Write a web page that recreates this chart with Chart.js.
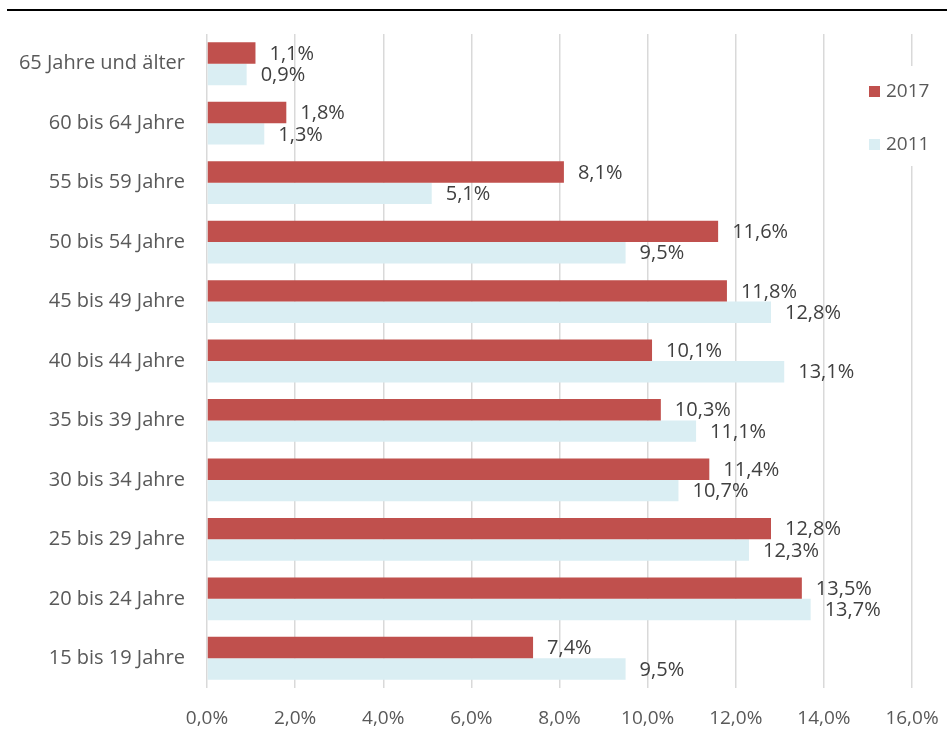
<!DOCTYPE html>
<html>
<head>
<meta charset="utf-8">
<script src="https://cdn.jsdelivr.net/npm/chart.js@4.4.0/dist/chart.umd.min.js"></script>
<style>
  html, body { margin: 0; padding: 0; background: #fff; }
  canvas { display: block; }
</style>
</head>
<body>
<canvas id="chart" width="947" height="740"></canvas>
<script>
// Altersgruppen (von oben nach unten)
const categories = [
    '65 Jahre und älter',
    '60 bis 64 Jahre',
    '55 bis 59 Jahre',
    '50 bis 54 Jahre',
    '45 bis 49 Jahre',
    '40 bis 44 Jahre',
    '35 bis 39 Jahre',
    '30 bis 34 Jahre',
    '25 bis 29 Jahre',
    '20 bis 24 Jahre',
    '15 bis 19 Jahre'
];
const values2017 = [1.1, 1.8, 8.1, 11.6, 11.8, 10.1, 10.3, 11.4, 12.8, 13.5, 7.4];
const values2011 = [0.9, 1.3, 5.1, 9.5, 12.8, 13.1, 11.1, 10.7, 12.3, 13.7, 9.5];
const seriesLabels = ['2017', '2011'];
const xTicks = [0, 2, 4, 6, 8, 10, 12, 14, 16];

const FONT = '"Open Sans", Lato, sans-serif';
const fmt = v => v.toFixed(1).replace('.', ',') + '%';

// Werte rechts neben den Balken
const valueLabels = {
    id: 'valueLabels',
    afterDatasetsDraw(chart) {
        const ctx = chart.ctx;
        ctx.save();
        ctx.font = '20px ' + FONT;
        ctx.fillStyle = '#404040';
        ctx.textAlign = 'left';
        ctx.textBaseline = 'middle';
        chart.data.datasets.forEach((ds, i) => {
            chart.getDatasetMeta(i).data.forEach((bar, j) => {
                ctx.fillText(fmt(ds.data[j]), bar.x + 14, bar.y + 1);
            });
        });
        ctx.restore();
    }
};

// Linie oben und Legende im Diagramm
const decorations = {
    id: 'decorations',
    afterDraw(chart) {
        const ctx = chart.ctx;
        ctx.save();
        ctx.strokeStyle = '#000';
        ctx.lineWidth = 2;
        ctx.beginPath();
        ctx.moveTo(7, 10);
        ctx.lineTo(947, 10);
        ctx.stroke();

        ctx.fillStyle = '#fff';
        ctx.fillRect(858, 66, 88, 100);
        ctx.font = '19px ' + FONT;
        ctx.textBaseline = 'middle';
        ctx.textAlign = 'left';
        chart.data.datasets.forEach((ds, i) => {
            const y = 91 + i * 53;
            ctx.fillStyle = ds.backgroundColor;
            ctx.fillRect(869, y - 5, 11, 11);
            ctx.fillStyle = '#595959';
            ctx.fillText(ds.label, 886, y + 1);
        });
        ctx.restore();
    }
};

new Chart(document.getElementById('chart'), {
    type: 'bar',
    data: {
        labels: categories,
        datasets: [
            { label: seriesLabels[0], data: values2017, backgroundColor: '#C0504D' },
            { label: seriesLabels[1], data: values2011, backgroundColor: '#DAEEF3' }
        ]
    },
    options: {
        indexAxis: 'y',
        responsive: false,
        animation: false,
        layout: { padding: { top: 34, right: 35, left: 0, bottom: 0 } },
        datasets: {
            bar: { categoryPercentage: 0.72, barPercentage: 1 }
        },
        plugins: {
            legend: { display: false },
            tooltip: { enabled: false }
        },
        scales: {
            x: {
                min: 0,
                max: 16,
                afterBuildTicks: scale => { scale.ticks = xTicks.map(v => ({ value: v })); },
                afterFit: scale => {
                    scale.height = 52;
                    scale.paddingLeft = 0;
                    scale.paddingRight = 0;
                },
                grid: { color: '#D9D9D9', lineWidth: 1.5, drawTicks: false },
                border: { display: false },
                ticks: {
                    padding: 19,
                    color: '#595959',
                    font: { family: FONT, size: 19 },
                    callback: v => fmt(v)
                }
            },
            y: {
                afterFit: scale => { scale.width = 207; },
                grid: { display: false, drawTicks: false },
                border: { display: false },
                ticks: {
                    padding: 22,
                    color: '#595959',
                    font: { family: FONT, size: 20 }
                }
            }
        }
    },
    plugins: [valueLabels, decorations]
});
</script>
</body>
</html>
